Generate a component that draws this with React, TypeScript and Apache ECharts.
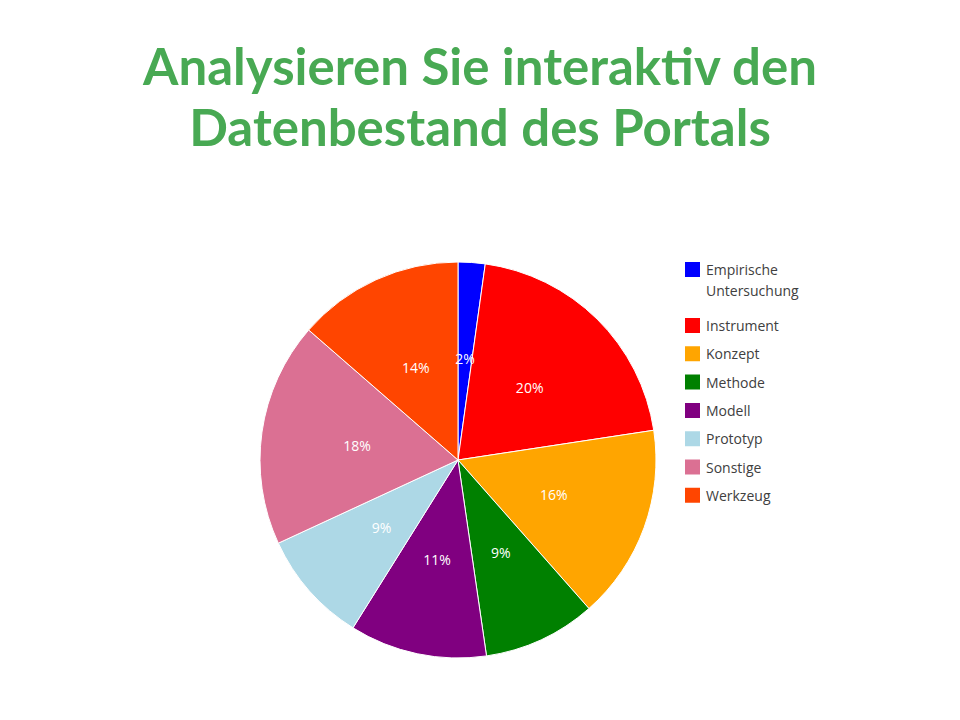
import React, { useEffect, useRef } from "react";
import * as echarts from "echarts";

const titleLines = ["Analysieren Sie interaktiv den", "Datenbestand des Portals"];
const categories = [
  "Empirische Untersuchung",
  "Instrument",
  "Konzept",
  "Methode",
  "Modell",
  "Prototyp",
  "Sonstige",
  "Werkzeug",
];
const values = [2.2, 20.4, 15.9, 9.2, 11.2, 9.2, 18.3, 13.6];
const colors = ["#0000ff", "#ff0000", "#ffa500", "#008000", "#800080", "#add8e6", "#db7093", "#ff4500"];

export default function App() {
  const ref = useRef<HTMLDivElement>(null);
  useEffect(() => {
    if (!ref.current) return;
    const chart = echarts.init(ref.current, undefined, { renderer: "svg" });
    const font = "'Open Sans', 'Noto Sans', sans-serif";
    const legendCommon = {
      orient: "vertical",
      left: 675,
      padding: 0,
      itemWidth: 17,
      itemHeight: 17,
      itemGap: 9.3,
      icon: "rect",
      textStyle: { fontFamily: font, fontSize: 14, color: "#404040", lineHeight: 17 },
    };
    chart.setOption({
      animation: false,
      backgroundColor: "#ffffff",
      title: {
        text: titleLines.join("\n"),
        left: "center",
        top: 22,
        textStyle: {
          fontFamily: "Lato, 'Open Sans', sans-serif",
          fontSize: 51,
          fontWeight: "bold",
          color: "#48a953",
          lineHeight: 61,
        },
      },
      legend: [
        {
          ...legendCommon,
          top: 230,
          data: [categories[0]],
          textStyle: { fontFamily: font, fontSize: 14, color: "#404040", lineHeight: 21 },
          formatter: (name: string) => "\n" + name.replace(" ", "\n"),
        },
        {
          ...legendCommon,
          top: 308,
          data: categories.slice(1),
        },
      ],
      series: [
        {
          type: "pie",
          center: [450, 452],
          radius: 198,
          startAngle: 90,
          clockwise: true,
          color: colors,
          itemStyle: { borderColor: "#ffffff", borderWidth: 1 },
          label: {
            position: "inner",
            color: "#ffffff",
            fontFamily: font,
            fontSize: 14,
            formatter: (p: any) => Math.round(p.percent) + "%",
          },
          labelLine: { show: false },
          emphasis: { disabled: true },
          data: categories.map((c, i) => ({ name: c, value: values[i] })),
        },
      ],
    });
    return () => chart.dispose();
  }, []);
  return <div ref={ref} style={{ width: 944, height: 704 }} />;
}
